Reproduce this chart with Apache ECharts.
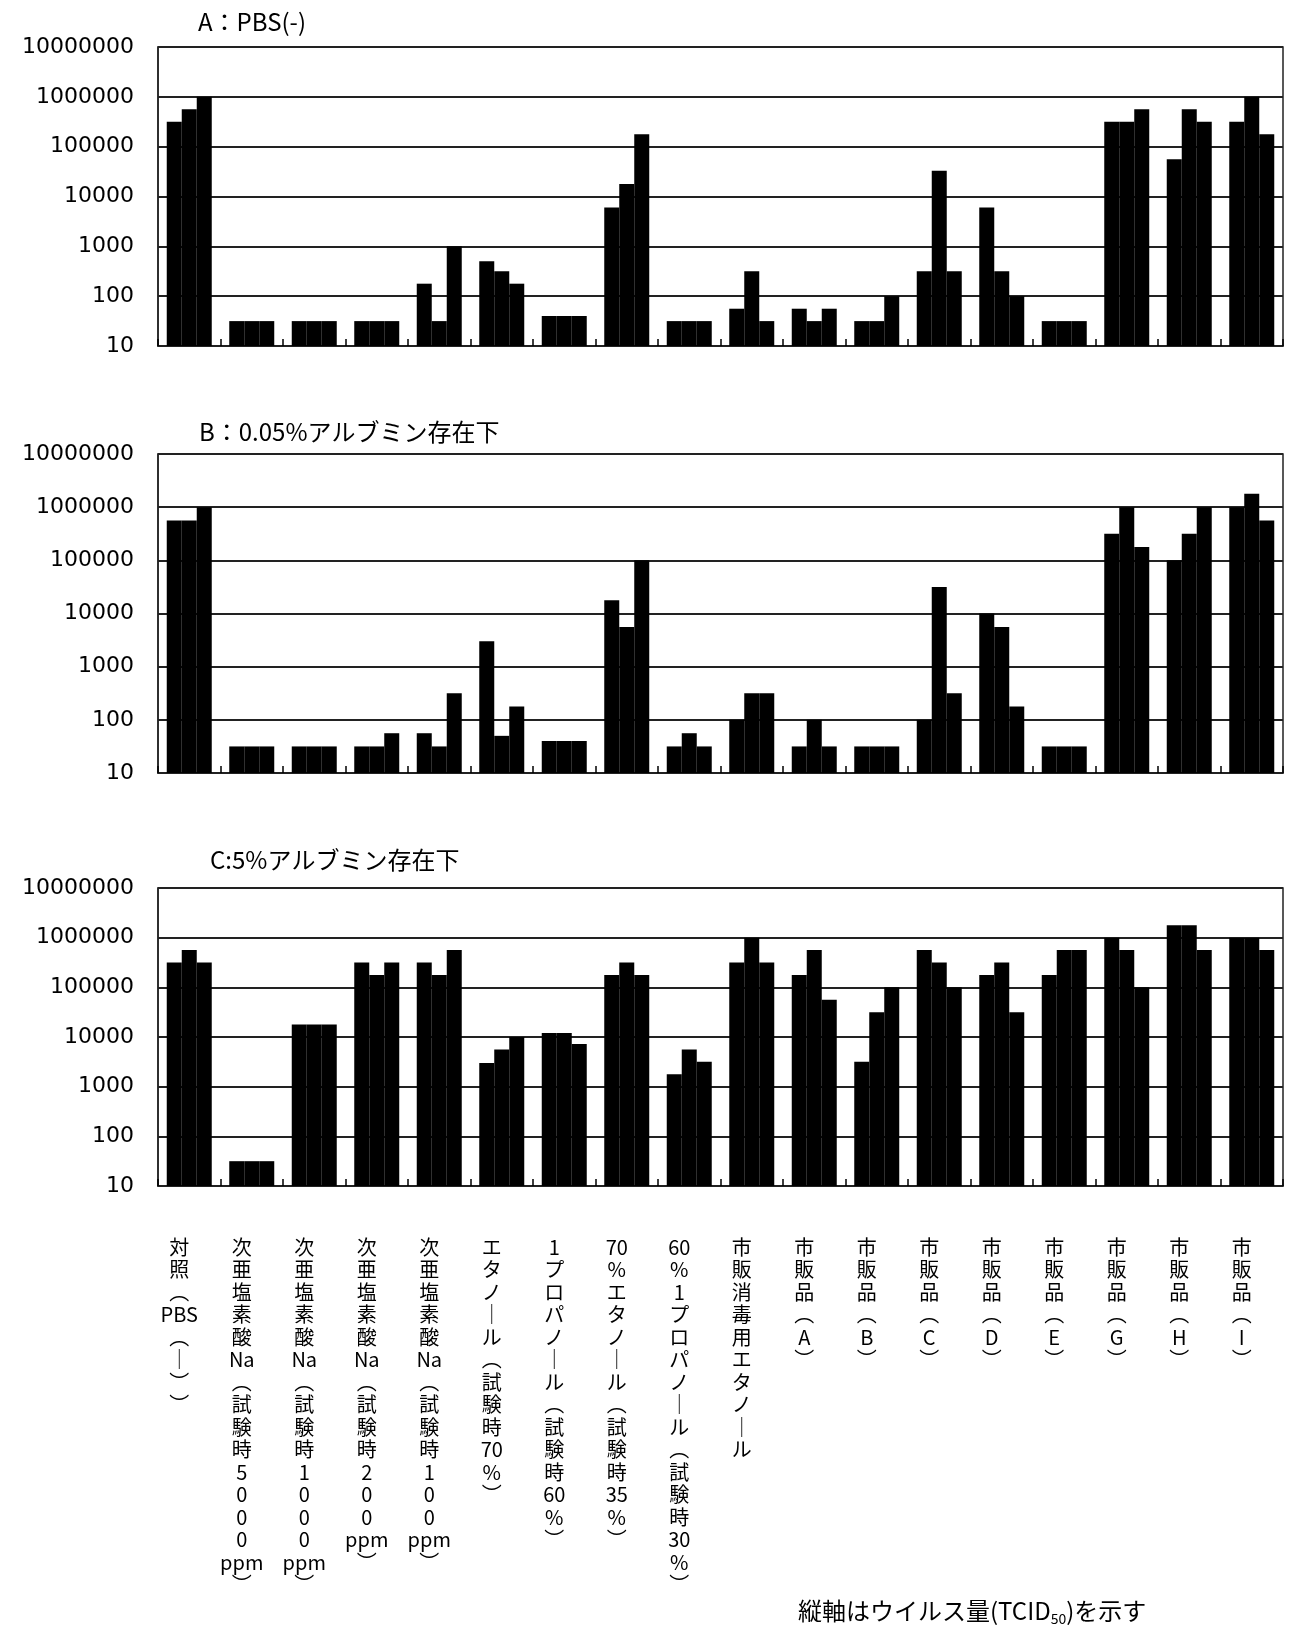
<!DOCTYPE html>
<html>
<head>
<meta charset="utf-8">
<script src="https://cdn.jsdelivr.net/npm/echarts@6/dist/echarts.min.js"></script>
<style>
html,body{margin:0;padding:0;background:#fff;}
#main{width:1295px;height:1635px;}
</style>
</head>
<body>
<div id="main"></div>
<script>
// 試験液
var categories = ['対照(PBS(-))', '次亜塩素酸Na(試験時5000ppm)', '次亜塩素酸Na(試験時1000ppm)', '次亜塩素酸Na(試験時200ppm)',
    '次亜塩素酸Na(試験時100ppm)', 'エタノール(試験時70%)', '1プロパノール(試験時60%)', '70%エタノール(試験時35%)',
    '60%1プロパノール(試験時30%)', '市販消毒用エタノール', '市販品(A)', '市販品(B)', '市販品(C)', '市販品(D)',
    '市販品(E)', '市販品(G)', '市販品(H)', '市販品(I)'];
var panelTitles = ['A：PBS(-)', 'B：0.05%アルブミン存在下', 'C:5%アルブミン存在下'];
var yTicks = [10, 100, 1000, 10000, 100000, 1000000, 10000000];

// A: PBS(-)  (3回の測定)
var a1 = [316000, 31.6, 31.6, 31.6, 178, 500, 40, 6000, 31.6, 56, 56, 31.6, 316, 6000, 31.6, 316000, 56000, 316000];
var a2 = [562000, 31.6, 31.6, 31.6, 31.6, 316, 40, 17800, 31.6, 316, 31.6, 31.6, 33000, 316, 31.6, 316000, 562000, 1000000];
var a3 = [1000000, 31.6, 31.6, 31.6, 1000, 178, 40, 178000, 31.6, 31.6, 56, 100, 316, 100, 31.6, 562000, 316000, 178000];
// B: 0.05%アルブミン
var b1 = [562000, 31.6, 31.6, 31.6, 56, 3000, 40, 17800, 31.6, 100, 31.6, 31.6, 100, 10000, 31.6, 316000, 100000, 1000000];
var b2 = [562000, 31.6, 31.6, 31.6, 31.6, 50, 40, 5600, 56, 316, 100, 31.6, 31600, 5600, 31.6, 1000000, 316000, 1780000];
var b3 = [1000000, 31.6, 31.6, 56, 316, 178, 40, 100000, 31.6, 316, 31.6, 31.6, 316, 178, 31.6, 178000, 1000000, 562000];
// C: 5%アルブミン
var c1 = [316000, 31.6, 17800, 316000, 316000, 3000, 12000, 178000, 1780, 316000, 178000, 3160, 562000, 178000, 178000, 1000000, 1780000, 1000000];
var c2 = [562000, 31.6, 17800, 178000, 178000, 5600, 12000, 316000, 5600, 1000000, 562000, 31600, 316000, 316000, 562000, 562000, 1780000, 1000000];
var c3 = [316000, 31.6, 17800, 316000, 562000, 10000, 7200, 178000, 3160, 316000, 56000, 100000, 100000, 31600, 562000, 100000, 562000, 562000];

var panels = [[a1, a2, a3], [b1, b2, b3], [c1, c2, c3]];

// 縦書きラベル
function tate(s) {
    var tokens = s.match(/Na|ppm|PBS|(?<!\d)\d{2}(?!\d)|./g);
    return tokens.map(function (t) {
        if (t == '(') return '︵';
        if (t == ')') return '︶';
        if (t == 'ー' || t == '-') return '｜';
        return t;
    }).join('\n');
}

var font = '"Noto Sans CJK JP", "DejaVu Sans", sans-serif';
var grids = [{top: 47, height: 299}, {top: 454, height: 319}, {top: 888, height: 298}];

var myChart = echarts.init(document.getElementById('main'));

var grid = [], xAxis = [], yAxis = [], series = [], title = [];
for (var i = 0; i < 3; i++) {
    grid.push({
        left: 158, width: 1125, top: grids[i].top, height: grids[i].height,
        show: true, borderColor: '#222', borderWidth: 1.5, backgroundColor: '#fff'
    });
    xAxis.push({
        type: 'category',
        gridIndex: i,
        data: categories,
        axisLine: {lineStyle: {color: '#222', width: 1.5}},
        axisTick: {show: true, inside: true, length: 7, lineStyle: {color: '#000', width: 1.5}},
        axisLabel: {
            show: i == 2,
            interval: 0,
            color: '#000',
            fontFamily: font,
            fontSize: 20,
            lineHeight: 22.5,
            margin: 50,
            verticalAlign: 'top',
            padding: [0, 20, 0, 0],
            formatter: function (v) { return tate(v); }
        }
    });
    yAxis.push({
        type: 'log',
        logBase: 10,
        gridIndex: i,
        min: yTicks[0],
        max: yTicks[yTicks.length - 1],
        splitNumber: 6,
        axisLine: {show: true, lineStyle: {color: '#222', width: 1.5}},
        axisTick: {show: false},
        splitLine: {show: true, lineStyle: {color: '#222', width: 2}},
        axisLabel: {
            color: '#000',
            fontFamily: '"DejaVu Sans", sans-serif',
            fontSize: 22,
            margin: 24,
            formatter: function (v) { return String(Math.round(v)); }
        }
    });
    for (var k = 0; k < 3; k++) {
        series.push({
            type: 'bar',
            xAxisIndex: i,
            yAxisIndex: i,
            barGap: '0%',
            barCategoryGap: '28%',
            clip: true,
            itemStyle: {color: '#000'},
            data: panels[i][k]
        });
    }
}

var titleTops = [10, 420, 848];
var titleLefts = [198, 199, 210];
for (var j = 0; j < 3; j++) {
    title.push({
        text: panelTitles[j],
        left: titleLefts[j],
        top: titleTops[j],
        padding: 0,
        textStyle: {fontFamily: font, fontSize: 24, fontWeight: 'normal', color: '#000'}
    });
}
title.push({
    text: '縦軸はウイルス量(TCID{sub|50})を示す',
    left: 798,
    top: 1596,
    padding: 0,
    textStyle: {
        fontFamily: font, fontSize: 24, fontWeight: 'normal', color: '#000', lineHeight: 30,
        rich: {sub: {fontFamily: font, fontSize: 14, color: '#000', verticalAlign: 'bottom', lineHeight: 22}}
    }
});

var option = {
    backgroundColor: '#fff',
    animation: false,
    title: title,
    grid: grid,
    xAxis: xAxis,
    yAxis: yAxis,
    series: series
};
myChart.setOption(option);
</script>
</body>
</html>
